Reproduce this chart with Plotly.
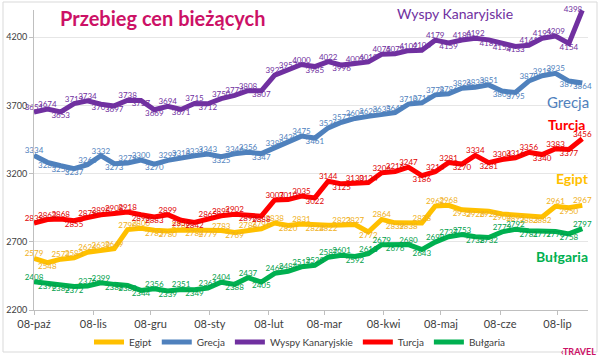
import pandas as pd
import plotly.graph_objects as go

dates = pd.date_range("2007-10-08", periods=42, freq="7D")

egipt = [2579, 2548, 2573, 2582, 2624, 2639, 2649, 2790, 2800, 2785, 2780, 2787, 2784, 2779,
         2783, 2769, 2786, 2796, 2838, 2820, 2831, 2824, 2822, 2823, 2827, 2772, 2864, 2839,
         2838, 2838, 2962, 2968, 2935, 2926, 2925, 2904, 2895, 2883, 2882, 2961, 2950, 2967]
grecja = [3334, 3283, 3258, 3237, 3266, 3332, 3273, 3278, 3300, 3270, 3297, 3318, 3331, 3343,
          3325, 3346, 3356, 3347, 3389, 3430, 3475, 3461, 3536, 3577, 3605, 3620, 3635, 3647,
          3710, 3719, 3778, 3786, 3826, 3833, 3851, 3806, 3795, 3879, 3918, 3935, 3879, 3864]
wyspy = [3651, 3674, 3653, 3713, 3734, 3709, 3697, 3738, 3737, 3669, 3694, 3671, 3715, 3712,
         3750, 3774, 3808, 3807, 3922, 3957, 4000, 3985, 4022, 3996, 4003, 4019, 4075, 4079,
         4102, 4104, 4179, 4159, 4180, 4192, 4181, 4153, 4133, 4141, 4193, 4209, 4154, 4398]
turcja = [2838, 2863, 2868, 2855, 2878, 2898, 2908, 2918, 2898, 2883, 2899, 2858, 2842, 2865,
          2891, 2902, 2896, 2888, 3007, 3010, 3035, 3022, 3144, 3125, 3130, 3134, 3206, 3216,
          3247, 3186, 3214, 3281, 3270, 3334, 3281, 3304, 3316, 3356, 3340, 3383, 3377, 3456]
bulgaria = [2408, 2398, 2383, 2372, 2376, 2399, 2388, 2380, 2344, 2356, 2339, 2351, 2349, 2361,
            2404, 2388, 2437, 2405, 2469, 2484, 2517, 2528, 2587, 2601, 2592, 2613, 2679, 2676,
            2680, 2643, 2698, 2737, 2753, 2738, 2732, 2773, 2792, 2781, 2777, 2776, 2758, 2797]

tick_dates = ["2007-10-08", "2007-11-08", "2007-12-08", "2008-01-08", "2008-02-08",
              "2008-03-08", "2008-04-08", "2008-05-08", "2008-06-08", "2008-07-08"]
tick_labels = ["08-paź", "08-lis", "08-gru", "08-sty", "08-lut",
               "08-mar", "08-kwi", "08-maj", "08-cze", "08-lip"]
y_ticks = [2200, 2700, 3200, 3700, 4200]
Y_MAX = 4400

series = [
    ("Egipt", egipt, "#FFC000", "#F0B020"),
    ("Grecja", grecja, "#4F81BD", "#4F81BD"),
    ("Wyspy Kanaryjskie", wyspy, "#7030A0", "#7030A0"),
    ("Turcja", turcja, "#FF0000", "#E00000"),
    ("Bułgaria", bulgaria, "#00B050", "#00A04A"),
]

FONT = "Lato"
fig = go.Figure()
for name, vals, col, tcol in series:
    pos = []
    for i, v in enumerate(vals):
        if v > Y_MAX - 60:
            pos.append("middle left")
        elif i == 0 or v >= vals[i - 1]:
            pos.append("top center")
        else:
            pos.append("bottom center")
    fig.add_trace(go.Scatter(
        x=dates, y=vals, name=name, mode="lines+text",
        line=dict(color=col, width=5),
        text=[str(v) for v in vals], textposition=pos,
        textfont=dict(size=8, color=tcol, family=FONT),
        cliponaxis=False,
    ))

# page pixel -> paper coords (plot area spans x 34..588, y 10..310)
def px_x(p):
    return (p - 34) / 554

def px_y(p):
    return (310 - p) / 300

annotations = [
    dict(text="<b>Przebieg cen bieżących</b>", x=px_x(58), y=px_y(18), xanchor="left",
         font=dict(size=20, color="#CC1166", family=FONT)),
    dict(text="Wyspy Kanaryjskie", x=px_x(455), y=px_y(14),
         font=dict(size=14, color="#7030A0", family=FONT)),
    dict(text="Grecja", x=px_x(568), y=px_y(102),
         font=dict(size=15, color="#4F81BD", family=FONT)),
    dict(text="<b>Turcja</b>", x=px_x(566), y=px_y(124),
         font=dict(size=14, color="#FF0000", family=FONT)),
    dict(text="<b>Egipt</b>", x=px_x(572), y=px_y(178),
         font=dict(size=14, color="#FFC000", family=FONT)),
    dict(text="<b>Bułgaria</b>", x=px_x(562), y=px_y(256),
         font=dict(size=14, color="#00B050", family=FONT)),
    dict(text="<b>‹TRAVEL</b>", x=px_x(598), y=px_y(359), xanchor="right", yanchor="bottom",
         font=dict(size=9, color="#CC1166", family=FONT)),
]
for a in annotations:
    a.update(xref="paper", yref="paper", showarrow=False)
    a.setdefault("xanchor", "center")
    a.setdefault("yanchor", "middle")

fig.update_layout(
    width=600, height=359,
    margin=dict(l=34, r=12, t=10, b=49, autoexpand=False),
    paper_bgcolor="white", plot_bgcolor="white",
    font=dict(family=FONT, color="#404040"),
    showlegend=True,
    legend=dict(orientation="h", x=px_x(300), y=px_y(342), xanchor="center", yanchor="middle",
                font=dict(size=10, color="#404040"), itemwidth=30, tracegroupgap=0,
                bgcolor="rgba(0,0,0,0)"),
    annotations=annotations,
    shapes=[dict(type="rect", xref="paper", yref="paper",
                 x0=px_x(3), x1=px_x(597), y0=px_y(352), y1=px_y(2),
                 line=dict(color="#D9D9D9", width=1))],
)
fig.update_xaxes(
    range=["2007-10-08", "2008-07-24"],
    tickvals=tick_dates, ticktext=tick_labels,
    tickfont=dict(size=11, color="#404040"),
    showgrid=False, showline=True, linecolor="#BFBFBF", linewidth=1,
    ticks="outside", ticklen=4, tickcolor="#BFBFBF", zeroline=False, automargin=False,
)
fig.update_yaxes(
    range=[2200, Y_MAX], tickvals=y_ticks,
    tickfont=dict(size=9, color="#404040"),
    showgrid=True, gridcolor="#E6E6E6", gridwidth=1,
    showline=True, linecolor="#BFBFBF", linewidth=1,
    ticks="outside", ticklen=4, tickcolor="#BFBFBF", zeroline=False, automargin=False,
)

fig.write_html("out.html", config={"displayModeBar": False},
               post_script="document.body.style.margin='0px';")
